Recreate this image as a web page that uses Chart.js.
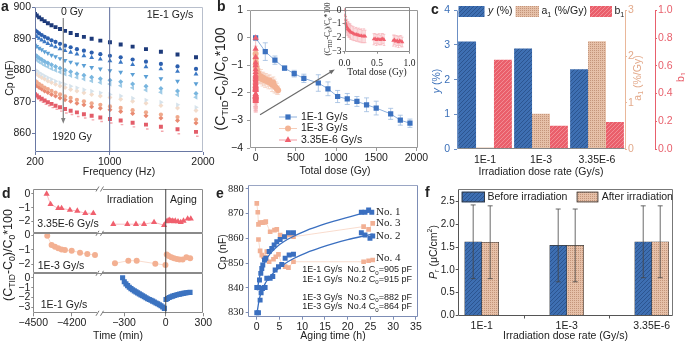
<!DOCTYPE html>
<html><head><meta charset="utf-8">
<title>Figure</title>
<script src="https://cdn.jsdelivr.net/npm/chart.js@4/dist/chart.umd.min.js"></script>
<style>
html,body{margin:0;padding:0;background:#fff;}
#wrap{position:relative;width:685px;height:343px;overflow:hidden;background:#fff;}
#wrap canvas{position:absolute;left:0;top:0;}
</style></head><body>
<div id="wrap">
<canvas id="cA" width="685" height="343"></canvas>
<canvas id="cB" width="685" height="343"></canvas>
<canvas id="cBi" width="685" height="343"></canvas>
<canvas id="cC" width="685" height="343"></canvas>
<canvas id="cD1" width="685" height="343"></canvas>
<canvas id="cD2" width="685" height="343"></canvas>
<canvas id="cD3" width="685" height="343"></canvas>
<canvas id="cE" width="685" height="343"></canvas>
<canvas id="cF" width="685" height="343"></canvas>
</div>
<script>
// ================= DATA =================
// ---- panel a : Cp vs frequency, 1E-1 Gy/s, 0 Gy ... 1920 Gy ----
const aFreq = [200,219,244,272,303,338,377,420,468,522,582,649,724,807,900,1003,1118,1246,1389,1549,1727,1925];
const aS1  = [897.9,897.4,896.8,896.2,895.6,894.9,894.3,893.7,893.1,892.5,891.8,891.2,890.6,890.0,889.4,888.9,888.2,887.5,886.7,885.9,885.0,884.1];
const aS2  = [892.7,892.3,891.7,891.2,890.6,890.1,889.5,889.0,888.4,887.8,887.3,886.7,886.2,885.6,885.1,884.6,884.1,883.4,882.7,882.0,881.2,880.4];
const aS3  = [891.1,890.7,890.1,889.6,889.0,888.5,887.9,887.4,886.8,886.2,885.7,885.1,884.6,884.0,883.5,883.0,882.5,881.8,881.1,880.4,879.6,878.8];
const aS4  = [888.0,887.6,887.0,886.5,885.9,885.4,884.8,884.3,883.7,883.1,882.6,882.0,881.5,880.9,880.4,879.9,879.4,878.7,878.0,877.3,876.5,875.7];
const aS5  = [884.9,884.5,883.9,883.4,882.8,882.3,881.7,881.2,880.6,880.0,879.5,878.9,878.4,877.8,877.3,876.8,876.3,875.6,874.9,874.2,873.4,872.6];
const aS6  = [883.7,883.3,882.7,882.2,881.6,881.1,880.5,880.0,879.4,878.8,878.3,877.7,877.2,876.6,876.1,875.6,875.1,874.4,873.7,873.0,872.2,871.4];
const aS7  = [880.2,879.8,879.2,878.7,878.2,877.6,877.1,876.5,876.0,875.5,874.9,874.4,873.8,873.3,872.8,872.3,871.8,871.1,870.5,869.8,869.0,868.2];
const aS8  = [879.2,878.8,878.2,877.7,877.2,876.6,876.1,875.5,875.0,874.5,873.9,873.4,872.8,872.3,871.8,871.3,870.8,870.1,869.5,868.8,868.0,867.2];
const aS9  = [876.6,876.2,875.6,875.1,874.5,874.0,873.4,872.9,872.3,871.7,871.2,870.6,870.1,869.5,869.0,868.5,868.0,867.3,866.6,865.9,865.1,864.3];
const aS10 = [875.5,875.1,874.5,874.0,873.4,872.9,872.3,871.8,871.2,870.6,870.1,869.5,869.0,868.4,867.9,867.4,866.9,866.2,865.5,864.8,864.0,863.2];
const aS11 = [872.4,872.0,871.4,870.9,870.4,869.8,869.3,868.7,868.2,867.7,867.1,866.6,866.0,865.5,865.0,864.5,864.0,863.3,862.7,862.0,861.2,860.4];
const aS12 = [871.3,870.9,870.3,869.8,869.2,868.7,868.1,867.6,867.0,866.4,865.9,865.3,864.8,864.2,863.7,863.2,862.7,862.0,861.3,860.6,859.8,859.0];
const aXTicks = [200,1000,2000];
const aYTicks = [860,870,880,890,900];

// ---- panel b : relative change vs total dose ----
const bDose1 = [0,120,240,360,480,600,780,900,1020,1140,1260,1380,1500,1680,1800,1920];
const bVal1  = [0,-0.5,-0.81,-1.1,-1.3,-1.47,-1.64,-1.85,-2.13,-2.22,-2.31,-2.43,-2.55,-2.76,-2.99,-3.1];
const bErr1  = [0,0.32,0.15,0.08,0.12,0.15,0.3,0.25,0.22,0.2,0.18,0.25,0.25,0.2,0.18,0.15];
const bDose2 = [0,2,4,6,8,10,13,16,20,25,30,36,42,50,58,66,75,85,95,105,118,130,145,160,175,190,205,220,235,250,265,280];
const bVal2  = [-0.58,-0.75,-0.9,-1.0,-1.05,-1.1,-1.15,-1.2,-1.25,-1.3,-1.28,-1.35,-1.38,-1.42,-1.45,-1.4,-1.48,-1.5,-1.45,-1.52,-1.55,-1.5,-1.58,-1.6,-1.55,-1.65,-1.7,-1.62,-1.75,-1.8,-1.85,-1.9];
const bErr2  = [0.15,0.2,0.2,0.25,0.2,0.25,0.2,0.25,0.2,0.2,0.25,0.2,0.25,0.2,0.2,0.25,0.2,0.25,0.2,0.2,0.25,0.2,0.2,0.25,0.2,0.2,0.25,0.2,0.25,0.2,0.2,0.15];
const bDose3 = [0,0.005,0.01,0.015,0.02,0.03,0.04,0.05,0.06,0.07,0.08,0.09,0.10,0.12,0.14,0.16,0.18,0.20,0.22,0.24,0.26,0.28,0.30,0.32,0.45,0.47,0.49,0.51,0.53,0.55,0.57,0.59,0.61,0.75,0.77,0.79,0.81,0.83,0.85,0.87,0.89];
const bVal3  = [0,-0.4,-0.7,-0.9,-1.0,-1.15,-1.25,-1.35,-1.4,-1.45,-1.5,-1.55,-1.6,-1.65,-1.7,-1.75,-1.75,-1.8,-1.8,-1.85,-1.85,-1.9,-1.85,-1.9,-2.1,-2.05,-2.15,-2.1,-2.1,-2.15,-2.1,-2.05,-2.15,-2.2,-2.15,-2.25,-2.2,-2.3,-2.2,-2.25,-2.3];
const bErr3  = [0,0.3,0.4,0.45,0.5,0.5,0.55,0.5,0.55,0.5,0.5,0.55,0.5,0.5,0.5,0.45,0.5,0.45,0.5,0.45,0.5,0.45,0.5,0.45,0.4,0.35,0.4,0.35,0.4,0.35,0.4,0.35,0.4,0.4,0.35,0.4,0.35,0.4,0.35,0.4,0.35];
const bXTicks = [0,500,1000,1500,2000];
const bYTicks = [-4,-3,-2,-1,0,1];
const bInsetXTicks = [0,0.5,1];
const bInsetYTicks = [-3,-2,-1,0];

// ---- panel c : fit parameters vs dose rate ----
const cRates = ['1E-1','1E-3','3.35E-6'];
const cY  = [3.1,2.9,2.3];
const cA1 = [0.03,0.76,2.33];
const cB1 = [0.643,0.168,0.195];

// ---- panel d : relative change vs time (irradiation + aging) ----
const d1T = [-4396,-4365,-4305,-4279,-4214,-4156,-4094,-4031,-377,-276,-214,-156,-84,-12,8,18,28,40,52,64,76,98,120,142,175,200];
const d1V = [0,-0.75,-1.04,-1.04,-1.16,-1.23,-1.4,-1.4,-2.19,-2.19,-2.19,-2.19,-2.05,-2.27,-2.0,-1.95,-1.9,-1.95,-1.95,-2.0,-1.95,-2.0,-2.05,-1.95,-1.8,-1.8];
const d2T = [-4391,-4357,-4331,-4305,-4279,-4253,-4200,-4135,-4078,-4018,-365,-269,-209,-75,-2,8,24,45,66,88,110,135,165,195];
const d2V = [-0.05,-0.68,-0.8,-0.9,-0.98,-1.02,-1.07,-1.2,-1.3,-1.36,-1.93,-1.75,-1.75,-1.95,-2.05,-1.32,-1.43,-1.52,-1.59,-1.64,-1.66,-1.66,-1.52,-1.59];
const d3T = [-310,-298,-286,-274,-262,-250,-238,-226,-214,-202,-190,-178,-166,-154,-142,-130,-118,-106,-94,-82,-70,-58,-46,-34,-22,-10,2,14,28,42,56,70,84,98,112,126,140,154,168,182,194];
const d3V = [0,-0.4,-0.62,-0.8,-0.96,-1.1,-1.22,-1.33,-1.43,-1.53,-1.63,-1.73,-1.83,-1.93,-2.03,-2.12,-2.2,-2.28,-2.37,-2.46,-2.55,-2.64,-2.74,-2.84,-2.96,-3.1,-2.2,-2.1,-2.0,-1.93,-1.86,-1.8,-1.75,-1.7,-1.66,-1.62,-1.58,-1.55,-1.52,-1.5,-1.48];
const dTickTimes = [-4500,-4200,-300,0,300];

// ---- panel e : Cp vs aging time ----
const e1H = [0,0.37,0.59,0.88,1.1,1.32,1.69,1.98,2.72,3.3,3.82,4.4,5.14,6.09,6.97,8.07,23.0,23.8,24.6,25.3];
const e1C = [840.2,840.2,843.2,845.9,847.9,849.3,851.3,852,854.7,856,857.4,858.7,859.6,860.7,862.3,862.3,870.6,870.6,871.5,870.6];
const e2H = [0,0.37,0.73,0.95,1.25,1.61,1.83,2.2,2.94,3.52,4.04,4.77,5.5,6.24,7.12,8.07,23.0,23.8,24.9,25.5];
const e2C = [830,830,835.1,838.1,839.8,840.2,840.2,843.9,843.9,844.6,847.3,848.6,849.5,852,853.3,853.6,862.3,861.4,860.1,861];
const e3H = [0,0.22,0.37,0.73,1.25,1.69,1.98,2.94,3.89,4.4,5.14,6.24,7.12,8.07,23.5,24.6,25.5];
const e3C = [874.2,870.6,865.7,866.4,866.4,866.5,866.8,862.7,863.4,863.7,861.4,860.7,861.4,860.7,864.8,863.7,866.1];
const e4H = [0.37,0.73,1.1,1.47,1.83,2.2,2.72,3.67,4.18,4.77,5.5,6.24,6.97,8.07,23.5,24.6,25.5];
const e4C = [859.6,855,853.3,852.6,852.4,854.7,850.6,851.6,852.6,853.6,849.5,848.6,848.2,850.6,850.6,851,851.3];
const eFitH  = [0.1,0.5,1,2,3,4.5,6,8,11,14,17,20,23,25.5];
const eFit1C = [839,843.5,847,851.3,854,856.8,858.8,860.8,863.3,865.3,867,868.5,870,871];
const eFit2C = [830.5,835,838.5,842.3,844.8,847.5,849.6,851.8,854.3,856.3,858,859.5,860.8,861.8];
const eXTicks = [0,5,10,15,20,25,30,35];
const eYTicks = [830,840,850,860,870,880];

// ---- panel f : remanent polarization ----
const fRates = ['1E-1','1E-3','3.35E-6'];
const fBefore = [1.62,1.54,1.62];
const fAfter  = [1.61,1.54,1.62];
const fBeforeErr = [0.81,0.8,0.79];
const fAfterErr  = [0.8,0.8,0.79];
const fYTicks = [0,0.5,1,1.5,2,2.5];

// ================= HELPERS =================
const SANS = '"Liberation Sans", Arial, Helvetica, sans-serif';
const SERIF = '"Liberation Serif", "Times New Roman", serif';
const MINUS = '\u2212';
Chart.defaults.font.family = SANS;
Chart.defaults.color = '#222';
function gid(i){ return document.getElementById(i); }
function fmtNum(v){ return String(v).replace('-', MINUS); }
function pad(L,T,R,B,lw,rw,bh){ return {left:L-lw, top:T, right:685-R-rw, bottom:343-B-bh}; }
function baseOptions(p){
  return {responsive:false, maintainAspectRatio:false, animation:false, devicePixelRatio:1, events:[],
    layout:{padding:p, autoPadding:false},
    plugins:{legend:{display:false}, tooltip:{enabled:false}, title:{display:false}},
    elements:{line:{borderWidth:1, tension:0}, point:{radius:2.5, borderWidth:0}}};
}
function lin(o){
  return {
    type:'linear', position:o.pos, min:o.min, max:o.max, weight:o.weight||0, offset:false,
    afterBuildTicks:s=>{ if(o.ticks) s.ticks=o.ticks.map(v=>({value:v})); },
    afterFit:s=>{ if(o.pos==='left'||o.pos==='right') s.width=o.size; else s.height=o.size; },
    grid:{display:true, drawOnChartArea:false, drawTicks:true, offset:false, tickLength:(o.tl===undefined?3:o.tl), color:o.gc||'#888', lineWidth:1},
    border:{display:!!o.border, color:o.border||'#888', width:1},
    ticks:{autoSkip:false, maxRotation:0, minRotation:0, padding:(o.pad===undefined?2:o.pad), color:o.tc||'#222',
      font:{size:o.fs||10, family:o.fam||SANS}, callback:o.fmt||(v=>fmtNum(v))}
  };
}
function parseRich(s){
  const segs=[]; let i=0, buf='';
  while(i<s.length){
    const c=s[i];
    if((c==='_'||c==='^'||c==='~') && s[i+1]==='{'){
      if(buf){segs.push({t:buf,m:''}); buf='';}
      const j=s.indexOf('}',i);
      segs.push({t:s.slice(i+2,j), m:c}); i=j+1;
    } else { buf+=c; i++; }
  }
  if(buf) segs.push({t:buf,m:''});
  return segs;
}
function drawRich(ctx,s,x,y,o){
  o=o||{}; const size=o.size||10; const fam=o.family||SANS; const wt=o.weight||'normal';
  const segs=parseRich(s);
  const fontFor=m=>((m==='~'?'italic ':'')+wt+' '+((m==='_'||m==='^')?(size*0.68).toFixed(2):size)+'px '+fam);
  ctx.save(); ctx.translate(x,y); if(o.rot) ctx.rotate(o.rot*Math.PI/180);
  let w=0; for(const g of segs){ ctx.font=fontFor(g.m); g.w=ctx.measureText(g.t).width; w+=g.w; }
  let cx=o.align==='left'?0:(o.align==='right'?-w:-w/2);
  ctx.fillStyle=o.color||'#222'; ctx.textAlign='left'; ctx.textBaseline=o.base||'middle';
  for(const g of segs){ ctx.font=fontFor(g.m); const dy=g.m==='_'?size*0.32:(g.m==='^'?-size*0.38:0); ctx.fillText(g.t,cx,dy); cx+=g.w; }
  ctx.restore();
}
function arrow(ctx,x1,y1,x2,y2,color,w,h){
  const a=Math.atan2(y2-y1,x2-x1);
  ctx.save(); ctx.strokeStyle=color; ctx.fillStyle=color; ctx.lineWidth=w;
  ctx.beginPath(); ctx.moveTo(x1,y1); ctx.lineTo(x2-h*0.8*Math.cos(a), y2-h*0.8*Math.sin(a)); ctx.stroke();
  ctx.beginPath(); ctx.moveTo(x2,y2);
  ctx.lineTo(x2-h*Math.cos(a-0.38), y2-h*Math.sin(a-0.38));
  ctx.lineTo(x2-h*Math.cos(a+0.38), y2-h*Math.sin(a+0.38));
  ctx.closePath(); ctx.fill(); ctx.restore();
}
function brk(ctx,x,y){
  ctx.save(); ctx.fillStyle='#fff'; ctx.fillRect(x-3,y-1.5,6,3);
  ctx.strokeStyle='#555'; ctx.lineWidth=0.8; ctx.beginPath();
  ctx.moveTo(x-4,y+2.5); ctx.lineTo(x-1,y-2.5); ctx.moveTo(x+0.5,y+2.5); ctx.lineTo(x+3.5,y-2.5);
  ctx.stroke(); ctx.restore();
}
function marker(ctx,style,x,y,r,fill){
  ctx.save(); ctx.translate(x,y); ctx.fillStyle=fill; ctx.beginPath();
  if(style==='rect'){ const s=r*Math.SQRT1_2; ctx.rect(-s,-s,2*s,2*s); }
  else if(style==='circle'){ ctx.arc(0,0,r,0,Math.PI*2); }
  else { ctx.moveTo(0,-r); ctx.lineTo(r*0.866,r*0.5); ctx.lineTo(-r*0.866,r*0.5); ctx.closePath(); }
  ctx.fill(); ctx.restore();
}
function drawErrors(chart,onTop){
  const ctx=chart.ctx, ca=chart.chartArea;
  chart.data.datasets.forEach((ds,i)=>{
    if(!ds.errors || (!!ds.errOnTop)!==onTop) return;
    const meta=chart.getDatasetMeta(i); const ys=chart.scales[meta.yAxisID];
    ctx.save(); ctx.beginPath(); ctx.rect(ca.left,ca.top,ca.width,ca.height); ctx.clip();
    ctx.strokeStyle=ds.errColor||'#999'; ctx.lineWidth=ds.errWidth||0.8;
    ctx.beginPath();
    meta.data.forEach((el,j)=>{
      const e=ds.errors[j]; if(!e) return;
      const raw=ds.data[j]; const v=(typeof raw==='object')?raw.y:raw;
      const x=el.x, y1=ys.getPixelForValue(v+e), y2=ys.getPixelForValue(v-e);
      const c=(ds.errCap===undefined?2:ds.errCap);
      ctx.moveTo(x,y1); ctx.lineTo(x,y2);
      if(c){ ctx.moveTo(x-c,y1); ctx.lineTo(x+c,y1); ctx.moveTo(x-c,y2); ctx.lineTo(x+c,y2); }
    });
    ctx.stroke(); ctx.restore();
  });
}
function drawItem(chart,it){
  const ctx=chart.ctx, ca=chart.chartArea;
  const xs=chart.scales[it.xAxis||'x'], ys=chart.scales[it.yAxis||'y'];
  if(it.k==='text'){ drawRich(ctx,it.s,it.x,it.y,it); }
  else if(it.k==='vline'){ const px=xs.getPixelForValue(it.v); ctx.save(); ctx.strokeStyle=it.color; ctx.lineWidth=it.w||1; ctx.beginPath(); ctx.moveTo(px,ca.top); ctx.lineTo(px,ca.bottom); ctx.stroke(); ctx.restore(); }
  else if(it.k==='arrow'){ arrow(ctx,xs.getPixelForValue(it.x1),ys.getPixelForValue(it.y1),xs.getPixelForValue(it.x2),ys.getPixelForValue(it.y2),it.color,it.w||1,it.head||5); }
  else if(it.k==='brk'){ const px=xs.getPixelForValue(it.v); (it.at||['top','bottom']).forEach(a=>brk(ctx,px,a==='top'?ca.top:ca.bottom)); }
  else if(it.k==='swatch'){ ctx.save(); ctx.fillStyle=it.fill; ctx.fillRect(it.x,it.y,it.w,it.h); if(it.stroke){ ctx.strokeStyle=it.stroke; ctx.lineWidth=0.8; ctx.strokeRect(it.x+0.4,it.y+0.4,it.w-0.8,it.h-0.8);} ctx.restore(); }
  else if(it.k==='lg'){ ctx.save(); ctx.strokeStyle=it.line; ctx.lineWidth=1; ctx.beginPath(); ctx.moveTo(it.x-9,it.y); ctx.lineTo(it.x+9,it.y); ctx.stroke(); ctx.restore(); marker(ctx,it.style,it.x,it.y,it.r,it.color); }
}
function deco(cfg){
  return {id:'deco',
    beforeDatasetsDraw(chart){ drawErrors(chart,false); },
    afterDatasetsDraw(chart){
      drawErrors(chart,true);
      const ctx=chart.ctx, ca=chart.chartArea;
      if(cfg.frame){
        const f=cfg.frame; ctx.save(); ctx.lineWidth=1;
        const L=Math.round(ca.left)+0.5, R=Math.round(ca.right)-0.5, T=Math.round(ca.top)+0.5, B=Math.round(ca.bottom)-0.5;
        [['top',L,T,R,T],['right',R,T,R,B],['bottom',L,B,R,B],['left',L,T,L,B]].forEach(q=>{
          if(f[q[0]]){ ctx.strokeStyle=f[q[0]]; ctx.beginPath(); ctx.moveTo(q[1],q[2]); ctx.lineTo(q[3],q[4]); ctx.stroke(); }
        });
        ctx.restore();
      }
      (cfg.items||[]).forEach(it=>drawItem(chart,it));
    }};
}
function opts(p,scales){ const o=baseOptions(p); o.scales=scales; return o; }
function mkPattern(base,line,kind){
  const t=document.createElement('canvas'); t.width=4; t.height=4; const g=t.getContext('2d');
  g.fillStyle=base; g.fillRect(0,0,4,4);
  if(kind==='diag'){ g.strokeStyle=line; g.lineWidth=1; g.beginPath(); for(let k=-4;k<=4;k+=4){ g.moveTo(k,4); g.lineTo(k+4,0);} g.stroke(); }
  else { g.fillStyle=line; g.fillRect(0,0,1,1); g.fillRect(2,2,1,1); g.fillRect(2,0,1,1); g.fillRect(0,2,1,1); }
  return gid('cC').getContext('2d').createPattern(t,'repeat');
}

// ================= PANEL A =================
const aSeries=[aS1,aS2,aS3,aS4,aS5,aS6,aS7,aS8,aS9,aS10,aS11,aS12];
const aStyle=[
  {c:'#1d3a7a',ps:'rect',r:2.8},{c:'#2c5fae',ps:'circle',r:2.1},{c:'#3b78c4',ps:'triangle',r:2.8},
  {c:'#5b9fd5',ps:'triangle',r:2.8,rot:180},{c:'#79b6df',ps:'rectRot',r:2.5},{c:'#9fcbe6',ps:'triangle',r:2.8,rot:-90},
  {c:'#d6e3ec',ps:'triangle',r:2.8,rot:90},{c:'#f3dccb',ps:'rectRot',r:2.5},{c:'#efa98c',ps:'circle',r:2.1},
  {c:'#e98a72',ps:'rectRot',r:2.5},{c:'#e35d69',ps:'rect',r:2.8},{c:'#f3a7ad',ps:'dash',r:2.6}
];
new Chart(gid('cA'),{type:'scatter',
  data:{datasets:aSeries.map((s,i)=>({
    data:aFreq.map((f,j)=>({x:f,y:s[j]})), pointStyle:aStyle[i].ps, pointRadius:aStyle[i].r,
    pointRotation:aStyle[i].rot||0, backgroundColor:aStyle[i].c, borderColor:aStyle[i].c,
    pointBorderWidth:aStyle[i].ps==='dash'?1.4:0}))},
  options:opts(pad(35,5,203,152,35,0,20),{
    x:lin({pos:'bottom',min:200,max:2000,ticks:aXTicks,size:20,fs:10.5,gc:'#6978a3',tl:3,pad:1}),
    y:lin({pos:'left',min:854,max:900,ticks:aYTicks,size:35,fs:10.5,gc:'#6978a3',tl:3,pad:1})}),
  plugins:[deco({frame:{top:'#b8bfcc',right:'#b8bfcc',bottom:'#6978a3',left:'#6978a3'},items:[
    {k:'vline',v:1000,color:'#5d6c9c'},
    {k:'arrow',x1:503,y1:896.6,x2:503,y2:863.0,color:'#808080',w:1.2,head:6},
    {k:'text',s:'0 Gy',x:72,y:12.5,size:10.5},
    {k:'text',s:'1920 Gy',x:72,y:137,size:10.5},
    {k:'text',s:'1E-1 Gy/s',x:170,y:15,size:10.5},
    {k:'text',s:'Frequency (Hz)',x:119,y:172,size:10.5},
    {k:'text',s:'Cp (nF)',x:10,y:78,size:10.5,rot:-90},
    {k:'text',s:'a',x:1,y:11,size:14,weight:'bold',align:'left',base:'alphabetic'}
  ]})]
});

// ================= PANEL B =================
new Chart(gid('cB'),{type:'scatter',
  data:{datasets:[
    {data:bDose3.map((x,i)=>({x:x,y:bVal3[i]})), pointStyle:'triangle', pointRadius:3.6, backgroundColor:'#f0606e', pointBorderWidth:0,
     errors:bErr3, errColor:'#f6b2b8', errCap:2},
    {data:bDose1.map((x,i)=>({x:x,y:bVal1[i]})), showLine:true, borderColor:'#8fb1dd', borderWidth:1, pointStyle:'rect', pointRadius:3.7,
     backgroundColor:'#3c72c0', pointBorderWidth:0, errors:bErr1, errColor:'#9dbbe0', errCap:2.5},
    {data:bDose2.map((x,i)=>({x:x,y:bVal2[i]})), showLine:true, borderColor:'#f6cdb9', borderWidth:1, pointStyle:'circle', pointRadius:3,
     backgroundColor:'#f3b394', pointBorderWidth:0, errors:bErr2, errColor:'#f5d2c2', errCap:2}
  ]},
  options:opts(pad(250,5,418,148,30,0,20),{
    x:lin({pos:'bottom',min:-70,max:2020,ticks:bXTicks,size:20,fs:10.5,gc:'#999',tl:3,pad:1}),
    y:lin({pos:'left',min:-4,max:1,ticks:bYTicks,size:30,fs:10.5,gc:'#999',tl:3,pad:4})}),
  plugins:[deco({frame:{top:'#999',right:'#999',bottom:'#999',left:'#999'},items:[
    {k:'arrow',x1:55,y1:-2.79,x2:985,y2:-1.15,color:'#6a6a6a',w:1.2,head:6},
    {k:'lg',x:288,y:117,style:'rect',r:3.7,color:'#3c72c0',line:'#8fb1dd'},
    {k:'text',s:'1E-1 Gy/s',x:301,y:117,size:10.5,align:'left'},
    {k:'lg',x:288,y:128.5,style:'circle',r:3,color:'#f3b394',line:'#f6cdb9'},
    {k:'text',s:'1E-3 Gy/s',x:301,y:128.5,size:10.5,align:'left'},
    {k:'lg',x:288,y:140,style:'triangle',r:3.8,color:'#f0606e',line:'#f39aa2'},
    {k:'text',s:'3.35E-6 Gy/s',x:301,y:140,size:10.5,align:'left'},
    {k:'text',s:'Total dose (Gy)',x:335,y:171.5,size:10.5},
    {k:'text',s:'(C_{TID}-C_{0})/C_{0}*100',x:221,y:79,size:14,rot:-90},
    {k:'text',s:'b',x:217,y:11,size:14,weight:'bold',align:'left',base:'alphabetic'}
  ]})]
});

// ---- inset of panel b ----
new Chart(gid('cBi'),{type:'scatter',
  data:{datasets:[
    {data:bDose3.map((x,i)=>({x:x,y:bVal3[i]})), pointStyle:'triangle', pointRadius:2.3, backgroundColor:'#f0606e', pointBorderWidth:0,
     errors:bErr3, errColor:'#f6b2b8', errCap:1.2, errWidth:0.7}
  ]},
  options:opts(pad(344.5,7.3,409.5,51.7,12,0,16),{
    x:lin({pos:'bottom',min:0,max:1,ticks:bInsetXTicks,size:16,fam:SERIF,fs:9.5,gc:'#888',tl:2,pad:4,fmt:v=>v.toFixed(1)}),
    y:lin({pos:'left',min:-3,max:0.2,ticks:bInsetYTicks,size:12,fam:SERIF,fs:9.5,gc:'#888',tl:2,pad:1})}),
  plugins:[deco({frame:{top:'#888',right:'#888',bottom:'#888',left:'#888'},items:[
    {k:'text',s:'Total dose (Gy)',x:377,y:72,size:9.5,family:SERIF},
    {k:'text',s:'(C_{TID}-C_{0})/C_{0}*100',x:328,y:29,size:7.5,family:SERIF,rot:-90}
  ]})]
});

// ================= PANEL C =================
const patBlue = mkPattern('#3e6fb2','#2c5590','diag');
const patTan  = mkPattern('#e6c0a8','#c4957a','dots');
const patRed  = mkPattern('#ea5f6b','#f28c94','diag');
new Chart(gid('cC'),{type:'bar',
  data:{labels:cRates, datasets:[
    {data:cY, yAxisID:'y', backgroundColor:patBlue, borderWidth:0},
    {data:cA1, yAxisID:'ya', backgroundColor:patTan, borderWidth:0},
    {data:cB1, yAxisID:'yb', backgroundColor:patRed, borderWidth:0}
  ]},
  options:(()=>{const o=opts(pad(457,5,625,149,25,60,22),{
    x:{type:'category',position:'bottom',afterFit:s=>{s.height=22;},grid:{display:false,drawTicks:false},border:{display:false},
       ticks:{font:{size:10.5,family:SANS},color:'#222',padding:5,maxRotation:0,autoSkip:false}},
    y:lin({pos:'left',min:0,max:4,ticks:[0,1,2,3,4],size:25,fs:10.5,tc:'#3a6fb8',gc:'#6b8fc4',tl:3,pad:4}),
    ya:lin({pos:'right',min:0,max:3,ticks:[0,1,2,3],size:30,fs:10.5,tc:'#e3a98a',gc:'#e9b79a',border:'#e9b79a',tl:2,pad:1,weight:0}),
    yb:lin({pos:'right',min:0,max:1,ticks:[0,0.2,0.4,0.6,0.8,1],size:30,fs:10.5,tc:'#e8606c',gc:'#e8606c',border:'#e8606c',tl:2,pad:1,weight:1,fmt:v=>v.toFixed(1)})});
    o.datasets={bar:{barPercentage:1,categoryPercentage:0.96}}; return o;})(),
  plugins:[deco({frame:{left:'#6b8fc4',bottom:'#888'},items:[
    {k:'swatch',x:458.5,y:6,w:26,h:11,fill:patBlue},
    {k:'text',s:'~{y} (%)',x:488,y:11.5,size:10.5,align:'left'},
    {k:'swatch',x:515.5,y:6,w:23.5,h:11,fill:patTan},
    {k:'text',s:'a_{1} (%/Gy)',x:541.5,y:11.5,size:10.5,align:'left'},
    {k:'swatch',x:590,y:6,w:22,h:11,fill:patRed},
    {k:'text',s:'b_{1}',x:614.5,y:11.5,size:10.5,align:'left'},
    {k:'text',s:'Irradiation dose rate (Gy/s)',x:541,y:172,size:10.5},
    {k:'text',s:'~{y} (%)',x:437,y:81,size:10.5,rot:-90,color:'#3a6fb8'},
    {k:'text',s:'a_{1} (%/Gy)',x:638,y:78,size:10.5,rot:-90,color:'#e3a98a'},
    {k:'text',s:'b_{1}',x:681,y:77,size:10.5,rot:-90,color:'#e8606c'},
    {k:'text',s:'c',x:431,y:14,size:14,weight:'bold',align:'left',base:'alphabetic'}
  ]})]
});

// ================= PANEL D =================
function mapT(t){ return t < -2000 ? (t + 4500) * 0.92 - 952 : (t > 0 ? t * 0.9 : t); }
const D_MIN = mapT(-4500), D_MAX = mapT(300), D_BREAK = -472.7;
function dDataset(T,V,style,r,color,line){
  const ds={data:T.map((t,i)=>({x:mapT(t),y:V[i]})), pointStyle:style, pointRadius:r, backgroundColor:color, pointBorderWidth:0};
  if(line){ ds.showLine=true; ds.borderColor=line; ds.borderWidth=0.8;
    ds.segment={borderColor:c=>(c.p0.parsed.x<D_BREAK && c.p1.parsed.x>D_BREAK)?'rgba(0,0,0,0)':line}; }
  return ds;
}
const dFrame={top:'#8a8a8a',right:'#8a8a8a',bottom:'#8a8a8a',left:'#8a8a8a'};
const dHiddenX={type:'linear',display:false,min:D_MIN,max:D_MAX};
new Chart(gid('cD1'),{type:'scatter',
  data:{datasets:[dDataset(d1T,d1V,'triangle',3.6,'#f0606e','#f7b0b6')]},
  options:opts(pad(33.3,189,203.3,233.3,33.3,0,0),{x:dHiddenX,
    y:lin({pos:'left',min:-2.85,max:0.36,ticks:[-2,-1,0],size:33.3,fs:10.5,gc:'#8a8a8a',tl:2,pad:1})}),
  plugins:[deco({frame:dFrame,items:[
    {k:'vline',v:0,color:'#444'},
    {k:'brk',v:D_BREAK,at:['top','bottom']},
    {k:'text',s:'Irradiation',x:130,y:200,size:10.5},
    {k:'text',s:'Aging',x:183.5,y:200,size:10.5},
    {k:'text',s:'3.35E-6 Gy/s',x:68,y:224,size:10.5},
    {k:'text',s:'(C_{TID}-C_{0})/C_{0}*100',x:8.5,y:255,size:12.5,rot:-90},
    {k:'text',s:'d',x:2,y:198,size:14,weight:'bold',align:'left',base:'alphabetic'}
  ]})]
});
new Chart(gid('cD2'),{type:'scatter',
  data:{datasets:[dDataset(d2T,d2V,'circle',3,'#f3b092','#f8d3c2')]},
  options:opts(pad(33.3,233.3,203.3,273.3,33.3,0,0),{x:dHiddenX,
    y:lin({pos:'left',min:-2.61,max:0.12,ticks:[-2,-1,0],size:33.3,fs:10.5,gc:'#8a8a8a',tl:2,pad:1})}),
  plugins:[deco({frame:dFrame,items:[
    {k:'vline',v:0,color:'#444'},
    {k:'brk',v:D_BREAK,at:['bottom']},
    {k:'text',s:'1E-3 Gy/s',x:61,y:266,size:10.5}
  ]})]
});
new Chart(gid('cD3'),{type:'scatter',
  data:{datasets:[dDataset(d3T,d3V,'rect',3.6,'#3c73c0',null)]},
  options:opts(pad(33.3,273.3,203.3,313.3,33.3,0,20),{
    x:lin({pos:'bottom',min:D_MIN,max:D_MAX,ticks:dTickTimes.map(mapT),size:20,fs:10.5,gc:'#8a8a8a',tl:3,pad:1,fmt:(v,i)=>fmtNum(dTickTimes[i])}),
    y:lin({pos:'left',min:-3.6,max:0.45,ticks:[-3,-2,-1,0],size:33.3,fs:10.5,gc:'#8a8a8a',tl:2,pad:1})}),
  plugins:[deco({frame:dFrame,items:[
    {k:'vline',v:0,color:'#444'},
    {k:'brk',v:D_BREAK,at:['bottom']},
    {k:'text',s:'1E-1 Gy/s',x:64,y:305,size:10.5},
    {k:'text',s:'Time (min)',x:118,y:336.5,size:10.5}
  ]})]
});

// ================= PANEL E =================
new Chart(gid('cE'),{type:'scatter',
  data:{datasets:[
    {data:e1H.map((h,i)=>({x:h,y:e1C[i]})), pointStyle:'rect', pointRadius:3.5, backgroundColor:'#3a6fc0', pointBorderWidth:0},
    {data:e2H.map((h,i)=>({x:h,y:e2C[i]})), pointStyle:'rect', pointRadius:3.5, backgroundColor:'#3a6fc0', pointBorderWidth:0},
    {data:eFitH.map((h,i)=>({x:h,y:eFit1C[i]})), showLine:true, pointRadius:0, borderColor:'#3a6fc0', borderWidth:1.3, cubicInterpolationMode:'monotone'},
    {data:eFitH.map((h,i)=>({x:h,y:eFit2C[i]})), showLine:true, pointRadius:0, borderColor:'#3a6fc0', borderWidth:1.3, cubicInterpolationMode:'monotone'},
    {data:e3H.map((h,i)=>({x:h,y:e3C[i]})), showLine:true, borderColor:'#f7d3c2', borderWidth:0.8, pointStyle:'rect', pointRadius:3.3, backgroundColor:'#f2b094', pointBorderWidth:0},
    {data:e4H.map((h,i)=>({x:h,y:e4C[i]})), showLine:true, borderColor:'#f7d3c2', borderWidth:0.8, pointStyle:'rect', pointRadius:3.3, backgroundColor:'#f2b094', pointBorderWidth:0}
  ]},
  options:opts(pad(247.7,185,417.7,316.7,22,0,20),{
    x:lin({pos:'bottom',min:-2,max:35.4,ticks:eXTicks,size:20,fs:10.5,gc:'#7d8db5',tl:3,pad:1}),
    y:lin({pos:'left',min:828.4,max:881.6,ticks:eYTicks,size:22,fam:SERIF,fs:10.5,gc:'#7d8db5',tl:2,pad:2})}),
  plugins:[deco({frame:{top:'#9aa6c4',right:'#7d8db5',bottom:'#7d8db5',left:'#7d8db5'},items:[
    {k:'text',s:'No. 1',x:376,y:211.7,size:11,family:SERIF,align:'left'},
    {k:'text',s:'No. 3',x:376,y:223.3,size:11,family:SERIF,align:'left'},
    {k:'text',s:'No. 2',x:376,y:236,size:11,family:SERIF,align:'left'},
    {k:'text',s:'No. 4',x:376,y:258.3,size:11,family:SERIF,align:'left'},
    {k:'text',s:'1E-1 Gy/s  No.1 C_{0}=905 pF',x:412,y:270,size:9,align:'right'},
    {k:'text',s:'1E-1 Gy/s  No.2 C_{0}=915 pF',x:412,y:279.5,size:9,align:'right'},
    {k:'text',s:'1E-3 Gy/s  No.3 C_{0}=882 pF',x:412,y:297.5,size:9,align:'right'},
    {k:'text',s:'1E-3 Gy/s  No.4 C_{0}=864 pF',x:412,y:307,size:9,align:'right'},
    {k:'text',s:'Aging time (h)',x:333,y:336,size:10.5},
    {k:'text',s:'Cp (nF)',x:223,y:252,size:10.5,rot:-90},
    {k:'text',s:'e',x:216,y:198,size:14,weight:'bold',align:'left',base:'alphabetic'}
  ]})]
});

// ================= PANEL F =================
new Chart(gid('cF'),{type:'bar',
  data:{datasets:[
    {data:fBefore.map((v,i)=>({x:i+1,y:v})), backgroundColor:patBlue, borderColor:'#3a3a3a', borderWidth:0.6, barThickness:17,
     errors:fBeforeErr, errColor:'#444', errOnTop:true, errCap:2.5},
    {data:fAfter.map((v,i)=>({x:i+1,y:v})), backgroundColor:patTan, borderColor:'#3a3a3a', borderWidth:0.6, barThickness:17,
     errors:fAfterErr, errColor:'#444', errOnTop:true, errCap:2.5}
  ]},
  options:opts(pad(457.7,189,673.3,315.5,24,0,20),{
    x:(()=>{const s=lin({pos:'bottom',min:0.718,max:3.254,ticks:[1,1.5,2,2.5,3],size:20,fs:10.5,tl:3,pad:1,
        fmt:v=>Number.isInteger(v)?fRates[v-1]:''});
      s.grid.color=c=>(c.tick && Number.isInteger(c.tick.value))?'rgba(0,0,0,0)':'#555'; return s;})(),
    y:lin({pos:'left',min:0,max:2.78,ticks:fYTicks,size:24,fs:10,gc:'#555',tl:2,pad:1,fmt:v=>v.toFixed(1)})}),
  plugins:[deco({frame:{top:'#777',right:'#777',bottom:'#555',left:'#555'},items:[
    {k:'swatch',x:461.7,y:191.7,w:23.3,h:10.6,fill:patBlue,stroke:'#333'},
    {k:'text',s:'Before irradiation',x:487.5,y:197,size:10.5,align:'left'},
    {k:'swatch',x:576.7,y:191.7,w:21.6,h:10.6,fill:patTan,stroke:'#333'},
    {k:'text',s:'After irradiation',x:601.7,y:197,size:10.5,align:'left'},
    {k:'text',s:'Irradiation dose rate (Gy/s)',x:565.5,y:336.5,size:10.5},
    {k:'text',s:'~{P}_{r} (\u03bcC/cm^{2})',x:434,y:252,size:10.5,rot:-90},
    {k:'text',s:'f',x:425,y:197,size:14,weight:'bold',align:'left',base:'alphabetic'}
  ]})]
});
</script>
</body></html>
